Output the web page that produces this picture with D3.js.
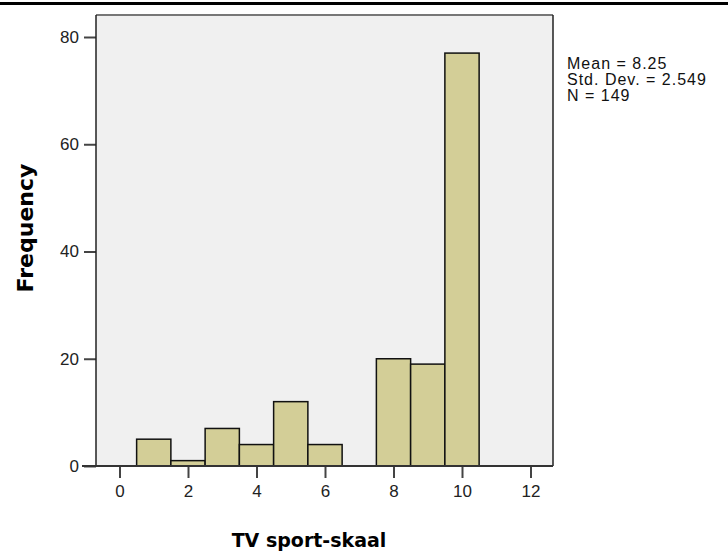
<!DOCTYPE html>
<html>
<head>
<meta charset="utf-8">
<script src="https://cdn.jsdelivr.net/npm/d3@7"></script>
<style>
  body { margin: 0; background: #fff; }
  svg { display: block; }
</style>
</head>
<body>
<div id="chart"></div>
<script>
// histogram bins (centre of each bin) and counts
var binCenters = [1, 2, 3, 4, 5, 6, 8, 9, 10];
var counts = [5, 1, 7, 4, 12, 4, 20, 19, 77];
var binWidth = 1;
var xTicks = [0, 2, 4, 6, 8, 10, 12];
var yTicks = [0, 20, 40, 60, 80];
var statLines = ["Mean = 8.25", "Std. Dev. = 2.549", "N = 149"];

var width = 728, height = 555;
var plot = {left: 96, right: 553, top: 15, bottom: 466};

var svg = d3.select("#chart").append("svg")
    .attr("width", width)
    .attr("height", height);

// black rule across the top
svg.append("rect")
    .attr("x", 0).attr("y", 2)
    .attr("width", width).attr("height", 3)
    .attr("fill", "#000");

var x = d3.scaleLinear().domain([0, 12]).range([119.5, 530.5]);
var y = d3.scaleLinear().domain([0, 80]).range([plot.bottom, 37]);

// plot frame
svg.append("rect")
    .attr("x", plot.left).attr("y", plot.top)
    .attr("width", plot.right - plot.left)
    .attr("height", plot.bottom - plot.top)
    .attr("fill", "#f0f0f0")
    .attr("stroke", "none");
svg.append("line")
    .attr("x1", plot.left).attr("x2", plot.right)
    .attr("y1", plot.top).attr("y2", plot.top)
    .attr("stroke", "#777").attr("stroke-width", 2);
svg.append("line")
    .attr("x1", plot.right).attr("x2", plot.right)
    .attr("y1", plot.top).attr("y2", plot.bottom)
    .attr("stroke", "#222").attr("stroke-width", 1.5);

// bars
svg.append("g").selectAll("rect")
    .data(binCenters)
    .enter().append("rect")
    .attr("x", function(d){ return x(d - binWidth / 2); })
    .attr("width", function(d){ return x(d + binWidth / 2) - x(d - binWidth / 2); })
    .attr("y", function(d, i){ return y(counts[i]); })
    .attr("height", function(d, i){ return y(0) - y(counts[i]); })
    .attr("fill", "#d3ce97")
    .attr("stroke", "#111")
    .attr("stroke-width", 1.5);

// y axis
var yAxis = d3.axisLeft(y)
    .tickValues(yTicks)
    .tickSize(12)
    .tickPadding(5)
    .tickSizeOuter(0);
var gy = svg.append("g")
    .attr("transform", "translate(" + plot.left + ",0)")
    .call(yAxis);
gy.select(".domain").remove();
gy.append("line")
    .attr("x1", 0).attr("x2", 0)
    .attr("y1", plot.top).attr("y2", plot.bottom)
    .attr("stroke", "#222").attr("stroke-width", 1.5);

// x axis
var xAxis = d3.axisBottom(x)
    .tickValues(xTicks)
    .tickSize(12)
    .tickPadding(7)
    .tickSizeOuter(0);
var gx = svg.append("g")
    .attr("transform", "translate(0," + plot.bottom + ")")
    .call(xAxis);
gx.select(".domain").remove();
gx.append("line")
    .attr("x1", 82).attr("x2", plot.right)
    .attr("y1", 0).attr("y2", 0)
    .attr("stroke", "#333").attr("stroke-width", 2);

svg.selectAll(".tick line")
    .attr("stroke", "#444")
    .attr("stroke-width", 2);
svg.selectAll(".tick text")
    .attr("font-family", "Liberation Sans, Arial, sans-serif")
    .attr("font-size", 17)
    .attr("fill", "#222");

// axis titles
svg.append("text")
    .attr("transform", "translate(33,228) rotate(-90)")
    .attr("text-anchor", "middle")
    .attr("font-family", "DejaVu Sans, sans-serif")
    .attr("font-weight", "bold")
    .attr("font-size", 22)
    .text("Frequency");

svg.append("text")
    .attr("x", 309).attr("y", 547)
    .attr("text-anchor", "middle")
    .attr("font-family", "DejaVu Sans, sans-serif")
    .attr("font-weight", "bold")
    .attr("font-size", 19)
    .text("TV sport-skaal");

// summary stats
svg.append("g").selectAll("text")
    .data(statLines)
    .enter().append("text")
    .attr("x", 567)
    .attr("y", function(d, i){ return 69 + i * 16; })
    .attr("font-family", "Liberation Sans, Arial, sans-serif")
    .attr("font-size", 16)
    .attr("letter-spacing", 1)
    .attr("fill", "#111")
    .text(function(d){ return d; });
</script>
</body>
</html>
